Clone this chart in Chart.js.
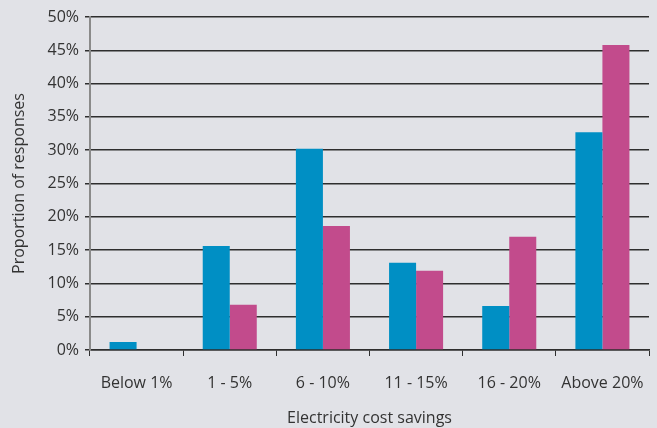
<!DOCTYPE html>
<html>
<head>
<meta charset="utf-8">
<script src="https://cdn.jsdelivr.net/npm/chart.js@4"></script>
<style>
  html, body { margin: 0; padding: 0; background: #e1e2e7; }
  #wrap { width: 657px; height: 428px; position: relative; }
</style>
</head>
<body>
<div id="wrap"><canvas id="chart"></canvas></div>
<script>
const categories = ["Below 1%", "1 - 5%", "6 - 10%", "11 - 15%", "16 - 20%", "Above 20%"];
const seriesBlue = [1.2, 15.6, 30.2, 13.1, 6.6, 32.7];
const seriesPink = [0, 6.8, 18.6, 11.9, 17.0, 45.8];
const yTicks = [0, 5, 10, 15, 20, 25, 30, 35, 40, 45, 50];

const colors = {
  blue: "#008fc4",
  pink: "#c24b8c",
  grid: "#2e2e2e",
  axis: "#8a8a8a",
  text: "#333333",
};

const font = { family: "Open Sans", size: 16 };

const ctx = document.getElementById("chart").getContext("2d");

new Chart(ctx, {
  type: "bar",
  data: {
    labels: categories,
    datasets: [
      {
        label: "Series 1",
        data: seriesBlue,
        backgroundColor: colors.blue,
        categoryPercentage: 0.58,
        barPercentage: 1,
      },
      {
        label: "Series 2",
        data: seriesPink,
        backgroundColor: colors.pink,
        categoryPercentage: 0.58,
        barPercentage: 1,
      },
    ],
  },
  options: {
    responsive: true,
    maintainAspectRatio: false,
    animation: false,
    layout: { padding: { top: 17, right: 8, left: 0, bottom: 0 } },
    plugins: {
      legend: { display: false },
      tooltip: { enabled: false },
    },
    scales: {
      x: {
        afterFit: (scale) => {
          scale.height = 78;
          scale.paddingLeft = 0;
          scale.paddingRight = 0;
        },
        grid: {
          offset: true,
          drawOnChartArea: false,
          drawTicks: true,
          tickLength: 6,
          color: colors.grid,
          lineWidth: 1,
        },
        border: { color: colors.grid, width: 1.5 },
        ticks: {
          color: colors.text,
          font: font,
          padding: 18,
          maxRotation: 0,
        },
        title: {
          display: true,
          text: "Electricity cost savings",
          color: colors.text,
          font: font,
          padding: { top: 0, bottom: 0 },
        },
      },
      y: {
        min: 0,
        max: 50,
        afterFit: (scale) => { scale.width = 90; },
        afterBuildTicks: (axis) => {
          axis.ticks = yTicks.map((v) => ({ value: v }));
        },
        grid: {
          color: colors.grid,
          lineWidth: 1.5,
          drawTicks: true,
          tickLength: 5,
        },
        border: { color: colors.axis, width: 2 },
        ticks: {
          color: colors.text,
          font: font,
          padding: 6,
          callback: (v) => v + "%",
        },
        title: {
          display: true,
          text: "Proportion of responses",
          color: colors.text,
          font: font,
          padding: { top: 10, bottom: 0 },
        },
      },
    },
  },
});
</script>
</body>
</html>
